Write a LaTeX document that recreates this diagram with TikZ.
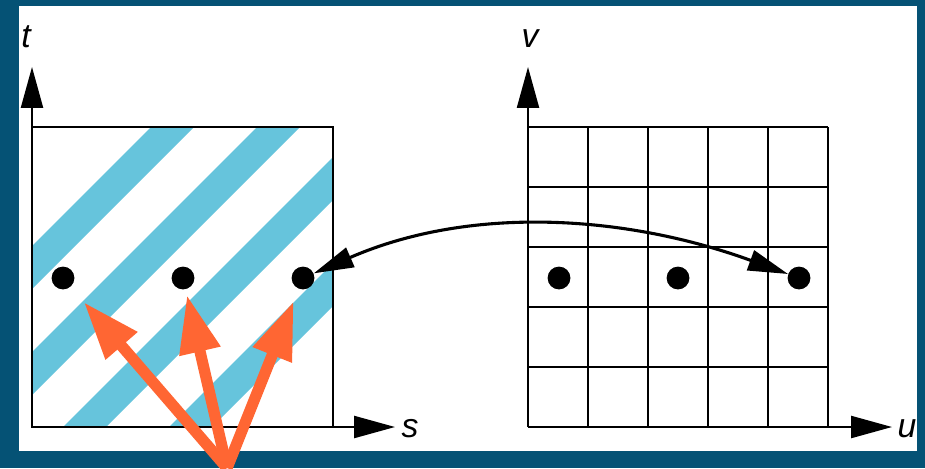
\documentclass[tikz,border=0pt]{standalone}
\usepackage{fontspec}
\setmainfont{Liberation Sans}
\usetikzlibrary{arrows.meta}
\definecolor{frame}{RGB}{5,82,117}
\definecolor{stripe}{RGB}{102,196,220}
\definecolor{pointer}{RGB}{255,102,51}

\begin{document}
\begin{tikzpicture}[x=0.025cm,y=-0.025cm,
  vert/.style={circle,fill,inner sep=0pt,minimum size=0.57cm},
  lab/.style={font=\fontsize{24}{28}\selectfont\itshape,anchor=base,inner sep=0pt},
  axis/.style={line width=1.4pt,-{Triangle[length=1.02cm,width=0.55cm]}},
  link/.style={line width=2.2pt,{Triangle[length=1cm,width=0.52cm]}-{Triangle[length=1cm,width=0.52cm]}},
  pick/.style={pointer,line width=8pt,-{Triangle[length=1.45cm,width=0.98cm]}}]
  % the frame
  \useasboundingbox (0,0) rectangle (925,468);
  \fill[frame] (0,0) rectangle (925,468);
  \fill[white] (19,6) rectangle (917,451);
  % the striped texture in (s,t)
  \begin{scope}
    \clip (32,127) rectangle (333,427);
    \foreach \c in {278,384,490,596}
      \fill[stripe] (\c,0) -- (\c+43,0) -- (\c+43-500,500) -- (\c-500,500) -- cycle;
  \end{scope}
  \draw[line width=1.1pt] (32,127) rectangle (333,427);
  \coordinate (o1) at (32,427);
  \coordinate (t1) at (32,67);
  \coordinate (s1) at (395,427);
  \draw[axis] (o1) -- (t1);
  \draw[axis] (o1) -- (s1);
  \node[lab] (tl) at (26,47) {t};
  \node[lab] (sl) at (410,437) {s};
  \node[vert] (d1) at (63,278) {};
  \node[vert] (d2) at (183,278) {};
  \node[vert] (d3) at (303,278) {};
  % the pixel grid in (u,v)
  \foreach \i in {0,...,5} {
    \draw[line width=0.9pt] (528+60*\i,127) -- (528+60*\i,427);
    \draw[line width=0.9pt] (528,127+60*\i) -- (828,127+60*\i);
  }
  \coordinate (o2) at (528,427);
  \coordinate (v2) at (528,67);
  \coordinate (u2) at (892,427);
  \draw[axis] (o2) -- (v2);
  \draw[axis] (o2) -- (u2);
  \node[lab] (vl) at (530,47) {v};
  \node[lab] (ul) at (907,437) {u};
  \node[vert] (e1) at (559,278) {};
  \node[vert] (e2) at (678,278) {};
  \node[vert] (e3) at (799,278) {};
  % the mapping between the two
  \draw[link] (d3) .. controls +(170,-74) and +(-170,-62) .. (e3);
  % the samples
  \coordinate (root) at (227,468);
  \draw[pick,shorten >=0.5cm] (root) -- (d1);
  \draw[pick,shorten >=0.14cm] (root) -- (d2);
  \draw[pick,shorten >=0.33cm] (root) -- (d3);
\end{tikzpicture}
\end{document}
